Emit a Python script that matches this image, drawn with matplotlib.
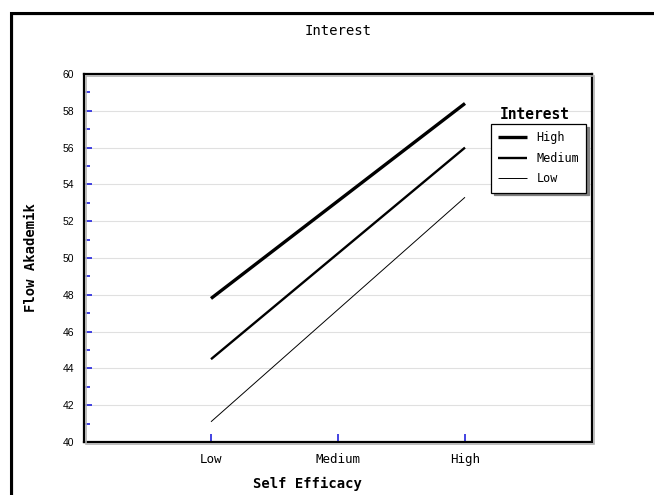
import matplotlib
matplotlib.use("Agg")
import matplotlib.pyplot as plt
from matplotlib.patches import Rectangle

# data
self_efficacy = ["Low", "Medium", "High"]
interest_levels = ["High", "Medium", "Low"]
flow_high = [47.8, 53.1, 58.4]
flow_medium = [44.5, 50.25, 56.0]
flow_low = [41.1, 47.2, 53.3]
y_ticks = [40, 42, 44, 46, 48, 50, 52, 54, 56, 58, 60]

mono = "DejaVu Sans Mono"

fig = plt.figure(figsize=(6.54, 4.95), dpi=100)
ax = fig.add_axes([84 / 654, 1 - 442 / 495, 508 / 654, 368 / 495])

x = [1, 2, 3]
widths = [2.4, 1.7, 0.7]
series = [flow_high, flow_medium, flow_low]
for vals, lw, name in zip(series, widths, interest_levels):
    ax.plot(x, vals, color="black", lw=lw, label=name, solid_capstyle="butt")

ax.set_xlim(0, 4)
ax.set_ylim(40, 60)
ax.set_xticks(x)
ax.set_xticklabels(self_efficacy, fontfamily=mono, fontsize=9)
ax.set_yticks(y_ticks)
ax.set_yticklabels([str(v) for v in y_ticks], fontfamily="Liberation Sans", fontsize=7.5)
ax.set_yticks(range(41, 60, 2), minor=True)
ax.tick_params(axis="both", which="both", direction="in", color="#2222dd", width=1.2)
ax.tick_params(axis="y", which="major", length=6, pad=7)
ax.tick_params(axis="y", which="minor", length=4)
ax.tick_params(axis="x", which="major", length=6, pad=8)
ax.grid(axis="y", color="#e0e0e0", lw=0.8)
ax.set_axisbelow(True)
for s in ax.spines.values():
    s.set_linewidth(1.6)
    s.set_color("black")

# drop shadow on the plot box
fig.patches.append(Rectangle((86 / 654, 1 - 444 / 495), 508 / 654, 368 / 495,
                             transform=fig.transFigure, fc="none", ec="#b0b0b0",
                             lw=1.2, zorder=0))

leg = ax.legend(loc="upper left", bbox_to_anchor=(0.802, 0.864), frameon=True,
                fancybox=False, shadow={"color": "#808080", "alpha": 1}, edgecolor="black",
                borderpad=0.6, handlelength=2.4, labelspacing=0.65, borderaxespad=0,
                prop={"family": mono, "size": 8.5})
leg.get_frame().set_linewidth(0.9)
ax.text(0.887, 0.87, "Interest", transform=ax.transAxes, ha="center", va="bottom",
        fontfamily=mono, fontsize=10.5, fontweight="bold")

fig.text(338 / 654, 1 - 31 / 495, "Interest", ha="center", va="center",
         fontfamily=mono, fontsize=10)
fig.text(307 / 654, 1 - 484 / 495, "Self Efficacy", ha="center", va="center",
         fontfamily=mono, fontsize=10, fontweight="bold")
fig.text(31 / 654, 1 - 258 / 495, "Flow Akademik", ha="center", va="center",
         rotation=90, fontfamily=mono, fontsize=10, fontweight="bold")

# outer frame running off the right and bottom edges
fig.patches.append(Rectangle((12 / 654, -0.2), 1.2, 1.2 - 14 / 495,
                             transform=fig.transFigure, fc="none", ec="#aaaaaa", lw=1.0))
fig.patches.append(Rectangle((11 / 654, -0.2), 1.2, 1.2 - 13 / 495,
                             transform=fig.transFigure, fc="none", ec="black", lw=2.2))

fig.savefig("out.png", dpi=100)
